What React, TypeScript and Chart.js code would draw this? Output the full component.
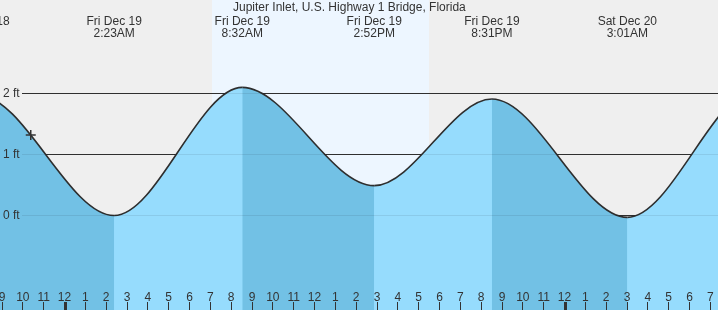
import React, { useEffect, useRef } from 'react';
import { Chart, registerables } from 'chart.js';

Chart.register(...registerables);

const TITLE = 'Jupiter Inlet, U.S. Highway 1 Bridge, Florida';

// Hours measured from midnight, Fri Dec 19
const tideHours = [-10.45, -4.12, 2.383, 8.533, 14.867, 20.517, 27.017, 33.33, 39.5];
const tideHeights = [0.45, 1.97, 0.0, 2.1, 0.49, 1.91, -0.03, 2.1, 0.4];
const tideDays = ['Thu Dec 18', 'Thu Dec 18', 'Fri Dec 19', 'Fri Dec 19', 'Fri Dec 19', 'Fri Dec 19', 'Sat Dec 20', 'Sat Dec 20', 'Sat Dec 20'];
const tideTimes = ['1:33PM', '7:53PM', '2:23AM', '8:32AM', '2:52PM', '8:31PM', '3:01AM', '9:20AM', '3:30PM'];

const hourTicks = [-3, -2, -1, 0, 1, 2, 3, 4, 5, 6, 7, 8, 9, 10, 11, 12, 13, 14, 15, 16, 17, 18, 19, 20, 21, 22, 23, 24, 25, 26, 27, 28, 29, 30, 31];
const hourLabels = ['9', '10', '11', '12', '1', '2', '3', '4', '5', '6', '7', '8', '9', '10', '11', '12', '1', '2', '3', '4', '5', '6', '7', '8', '9', '10', '11', '12', '1', '2', '3', '4', '5', '6', '7'];
const midnightHours = [0, 24];

const yTicks = [0, 1, 2];
const yTickLabels = ['0 ft', '1 ft', '2 ft'];

const sunriseHour = 7.08;
const sunsetHour = 17.5;
const nowHour = -1.62;
const nowHeight = 1.32;

const X_MIN = -3.096;
const X_MAX = 31.368;
const Y_MIN = -1.549;
const Y_MAX = 3.533;

const LIGHT = 'rgb(150,220,253)';
const DARK = 'rgb(114,193,229)';
const FONT = '12px "Liberation Sans", Arial, sans-serif';
const TEXT = '#333';

const tidePlugin = {
  id: 'tideDecor',
  beforeDraw(chart: any) {
    const { ctx, width, height } = chart;
    const x = chart.scales.x;
    const y = chart.scales.y;
    ctx.save();
    ctx.fillStyle = '#efefef';
    ctx.fillRect(0, 0, width, height);
    const sx = Math.round(x.getPixelForValue(sunriseHour));
    const ex = Math.round(x.getPixelForValue(sunsetHour));
    ctx.fillStyle = '#edf6ff';
    ctx.fillRect(sx, 0, ex - sx, height);
    ctx.strokeStyle = '#333';
    ctx.lineWidth = 1;
    yTicks.forEach((v) => {
      const py = Math.floor(y.getPixelForValue(v)) + 0.5;
      ctx.beginPath();
      ctx.moveTo(22, py);
      ctx.lineTo(width, py);
      ctx.stroke();
    });
    ctx.restore();
  },
  afterDatasetsDraw(chart: any) {
    const { ctx, width, height } = chart;
    const x = chart.scales.x;
    const y = chart.scales.y;
    ctx.save();
    ctx.strokeStyle = 'rgba(0,0,0,0.08)';
    ctx.lineWidth = 1;
    yTicks.forEach((v) => {
      const py = Math.floor(y.getPixelForValue(v)) + 0.5;
      ctx.beginPath();
      ctx.moveTo(22, py);
      ctx.lineTo(width, py);
      ctx.stroke();
    });
    ctx.font = FONT;
    ctx.fillStyle = TEXT;
    ctx.textAlign = 'left';
    ctx.textBaseline = 'middle';
    yTicks.forEach((v, i) => {
      ctx.fillText(yTickLabels[i], 3, Math.floor(y.getPixelForValue(v)) + 0.5);
    });
    ctx.textBaseline = 'alphabetic';
    ctx.fillText(TITLE, 233, 11);
    ctx.textAlign = 'center';
    tideHours.forEach((h, i) => {
      const px = x.getPixelForValue(h);
      ctx.fillText(tideDays[i], px, 24.5);
      ctx.fillText(tideTimes[i], px, 36.5);
    });
    ctx.strokeStyle = TEXT;
    hourTicks.forEach((h, i) => {
      const px = x.getPixelForValue(h);
      ctx.fillText(hourLabels[i], px, 300.5);
      const isMid = midnightHours.includes(h);
      ctx.lineWidth = isMid ? 3 : 1;
      const cx = isMid ? Math.round(px) + 0.5 : Math.floor(px) + 0.5;
      ctx.beginPath();
      ctx.moveTo(cx, 302);
      ctx.lineTo(cx, height);
      ctx.stroke();
    });
    ctx.restore();
  },
};

export default function App() {
  const canvasRef = useRef<HTMLCanvasElement | null>(null);

  useEffect(() => {
    document.body.style.margin = '0';
    const canvas = canvasRef.current;
    if (!canvas) return;
    const tidePoints = tideHours.map((h, i) => ({ x: h, y: tideHeights[i] }));
    const chart = new Chart(canvas, {
      type: 'line',
      data: {
        datasets: [
          {
            type: 'scatter',
            data: [{ x: nowHour, y: nowHeight }],
            pointStyle: 'cross',
            pointRadius: 5,
            pointBorderWidth: 1.5,
            pointBorderColor: '#333',
            borderColor: '#333',
            showLine: false,
            fill: false,
          } as any,
          {
            type: 'line',
            data: tidePoints,
            borderColor: '#2e2e2e',
            borderWidth: 1.6,
            pointRadius: 0,
            cubicInterpolationMode: 'monotone',
            fill: 'start',
            backgroundColor: LIGHT,
            segment: {
              backgroundColor: (c: any) => (c.p1.parsed.y > c.p0.parsed.y ? LIGHT : DARK),
            },
          } as any,
          {
            type: 'line',
            data: tidePoints,
            borderWidth: 0,
            borderColor: 'rgba(0,0,0,0)',
            pointRadius: 0,
            cubicInterpolationMode: 'monotone',
            fill: 'start',
            backgroundColor: LIGHT,
          } as any,
        ],
      },
      options: {
        animation: false,
        responsive: false,
        maintainAspectRatio: false,
        layout: { padding: 0, autoPadding: false },
        plugins: { legend: { display: false }, tooltip: { enabled: false }, title: { display: false } },
        events: [],
        scales: {
          x: { type: 'linear', min: X_MIN, max: X_MAX, display: false },
          y: { type: 'linear', min: Y_MIN, max: Y_MAX, display: false },
        },
      },
      plugins: [tidePlugin],
    });
    return () => chart.destroy();
  }, []);

  return (
    <div style={{ width: 718, height: 310 }}>
      <canvas ref={canvasRef} width={718} height={310} style={{ display: 'block' }} />
    </div>
  );
}
